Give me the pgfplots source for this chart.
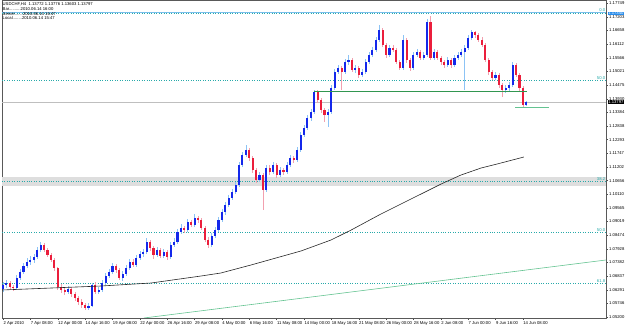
\documentclass[border=0pt]{standalone}
\usepackage{pgfplots}
\pgfplotsset{compat=1.18}
\usepackage{pgfplotstable}
\usepackage{fontspec}
\setmainfont{Liberation Sans}
\definecolor{bullbody}{RGB}{20,40,235}
\definecolor{bullwick}{RGB}{140,195,245}
\definecolor{bearbody}{RGB}{235,30,60}
\definecolor{bearwick}{RGB}{242,160,175}
\definecolor{fib}{RGB}{40,170,170}
\definecolor{trend}{RGB}{100,195,145}
\definecolor{hline}{RGB}{50,150,80}
\definecolor{topblue}{RGB}{120,190,235}
\definecolor{boxblue}{RGB}{40,140,235}
\newcommand\tf{\fontsize{4.2}{5}\selectfont}
\pgfplotstableread{
x o h l c
0 1.0632 1.0660 1.0620 1.0648
1 1.0648 1.0668 1.0638 1.0656
2 1.0656 1.0664 1.0628 1.0640
3 1.0640 1.0650 1.0624 1.0636
4 1.0636 1.0688 1.0630 1.0676
5 1.0676 1.0712 1.0668 1.0700
6 1.0700 1.0736 1.0692 1.0724
7 1.0724 1.0756 1.0716 1.0740
8 1.0740 1.0764 1.0730 1.0748
9 1.0748 1.0772 1.0738 1.0760
10 1.0760 1.0800 1.0752 1.0788
11 1.0788 1.0820 1.0780 1.0808
12 1.0808 1.0816 1.0780 1.0788
13 1.0788 1.0796 1.0758 1.0768
14 1.0768 1.0776 1.0740 1.0748
15 1.0748 1.0756 1.0704 1.0716
16 1.0716 1.0720 1.0630 1.0640
17 1.0640 1.0652 1.0616 1.0628
18 1.0628 1.0640 1.0608 1.0620
19 1.0620 1.0644 1.0610 1.0632
20 1.0632 1.0640 1.0600 1.0612
21 1.0612 1.0620 1.0586 1.0596
22 1.0596 1.0604 1.0568 1.0580
23 1.0580 1.0590 1.0556 1.0568
24 1.0568 1.0578 1.0548 1.0556
25 1.0556 1.0574 1.0546 1.0564
26 1.0564 1.0656 1.0558 1.0648
27 1.0648 1.0660 1.0612 1.0620
28 1.0620 1.0640 1.0610 1.0628
29 1.0628 1.0668 1.0620 1.0656
30 1.0656 1.0696 1.0648 1.0684
31 1.0684 1.0714 1.0676 1.0700
32 1.0700 1.0736 1.0692 1.0724
33 1.0724 1.0732 1.0698 1.0708
34 1.0708 1.0716 1.0668 1.0676
35 1.0676 1.0704 1.0664 1.0692
36 1.0692 1.0728 1.0684 1.0716
37 1.0716 1.0752 1.0708 1.0740
38 1.0740 1.0750 1.0718 1.0728
39 1.0728 1.0768 1.0720 1.0756
40 1.0756 1.0784 1.0748 1.0772
41 1.0772 1.0794 1.0762 1.0780
42 1.0780 1.0836 1.0774 1.0820
43 1.0820 1.0828 1.0786 1.0796
44 1.0796 1.0804 1.0752 1.0768
45 1.0768 1.0800 1.0760 1.0788
46 1.0788 1.0796 1.0754 1.0764
47 1.0764 1.0792 1.0756 1.0780
48 1.0780 1.0788 1.0750 1.0760
49 1.0760 1.0820 1.0754 1.0808
50 1.0808 1.0834 1.0800 1.0820
51 1.0820 1.0872 1.0814 1.0860
52 1.0860 1.0890 1.0852 1.0876
53 1.0876 1.0886 1.0858 1.0868
54 1.0868 1.0912 1.0860 1.0900
55 1.0900 1.0908 1.0878 1.0888
56 1.0888 1.0930 1.0880 1.0916
57 1.0916 1.0926 1.0898 1.0908
58 1.0908 1.0916 1.0866 1.0876
59 1.0876 1.0884 1.0818 1.0828
60 1.0828 1.0838 1.0796 1.0808
61 1.0808 1.0856 1.0800 1.0844
62 1.0844 1.0880 1.0836 1.0868
63 1.0868 1.0920 1.0860 1.0908
64 1.0908 1.0952 1.0900 1.0940
65 1.0940 1.0980 1.0930 1.0968
66 1.0968 1.1008 1.0960 1.0996
67 1.0996 1.1034 1.0988 1.1020
68 1.1020 1.1060 1.1010 1.1048
69 1.1048 1.1140 1.1040 1.1128
70 1.1128 1.1180 1.1118 1.1168
71 1.1168 1.1208 1.1160 1.1188
72 1.1188 1.1198 1.1146 1.1156
73 1.1156 1.1164 1.1096 1.1108
74 1.1108 1.1118 1.1056 1.1068
75 1.1068 1.1100 1.1058 1.1088
76 1.1088 1.1096 1.0948 1.1028
77 1.1028 1.1128 1.1020 1.1116
78 1.1116 1.1128 1.1090 1.1100
79 1.1100 1.1140 1.1092 1.1128
80 1.1128 1.1136 1.1078 1.1088
81 1.1088 1.1120 1.1080 1.1108
82 1.1108 1.1118 1.1088 1.1100
83 1.1100 1.1140 1.1092 1.1128
84 1.1128 1.1168 1.1120 1.1156
85 1.1156 1.1166 1.1138 1.1148
86 1.1148 1.1200 1.1140 1.1188
87 1.1188 1.1260 1.1180 1.1248
88 1.1248 1.1288 1.1238 1.1276
89 1.1276 1.1328 1.1268 1.1316
90 1.1316 1.1352 1.1306 1.1340
91 1.1340 1.1430 1.1332 1.1420
92 1.1420 1.1428 1.1378 1.1388
93 1.1388 1.1396 1.1338 1.1348
94 1.1348 1.1356 1.1300 1.1328
95 1.1328 1.1352 1.1280 1.1340
96 1.1340 1.1448 1.1332 1.1436
97 1.1436 1.1512 1.1428 1.1500
98 1.1500 1.1528 1.1490 1.1516
99 1.1516 1.1526 1.1428 1.1500
100 1.1500 1.1552 1.1492 1.1540
101 1.1540 1.1568 1.1530 1.1548
102 1.1548 1.1556 1.1498 1.1508
103 1.1508 1.1528 1.1496 1.1516
104 1.1516 1.1524 1.1478 1.1488
105 1.1488 1.1512 1.1480 1.1500
106 1.1500 1.1552 1.1492 1.1540
107 1.1540 1.1580 1.1532 1.1568
108 1.1568 1.1600 1.1560 1.1588
109 1.1588 1.1640 1.1580 1.1628
110 1.1628 1.1688 1.1620 1.1668
111 1.1668 1.1676 1.1598 1.1608
112 1.1608 1.1616 1.1558 1.1568
113 1.1568 1.1608 1.1560 1.1596
114 1.1596 1.1606 1.1578 1.1588
115 1.1588 1.1596 1.1530 1.1540
116 1.1540 1.1548 1.1506 1.1516
117 1.1516 1.1648 1.1508 1.1628
118 1.1628 1.1636 1.1538 1.1548
119 1.1548 1.1556 1.1504 1.1516
120 1.1516 1.1580 1.1508 1.1568
121 1.1568 1.1592 1.1560 1.1580
122 1.1580 1.1588 1.1546 1.1556
123 1.1556 1.1580 1.1548 1.1568
124 1.1568 1.1712 1.1560 1.1700
125 1.1700 1.1724 1.1546 1.1556
126 1.1556 1.1592 1.1548 1.1580
127 1.1580 1.1588 1.1546 1.1556
128 1.1556 1.1566 1.1530 1.1540
129 1.1540 1.1548 1.1518 1.1528
130 1.1528 1.1560 1.1520 1.1548
131 1.1548 1.1556 1.1516 1.1528
132 1.1528 1.1568 1.1520 1.1556
133 1.1556 1.1580 1.1548 1.1568
134 1.1568 1.1592 1.1560 1.1580
135 1.1580 1.1608 1.1428 1.1596
136 1.1596 1.1648 1.1588 1.1636
137 1.1636 1.1668 1.1628 1.1660
138 1.1660 1.1666 1.1638 1.1648
139 1.1648 1.1656 1.1618 1.1628
140 1.1628 1.1640 1.1598 1.1608
141 1.1608 1.1616 1.1538 1.1548
142 1.1548 1.1556 1.1488 1.1500
143 1.1500 1.1508 1.1466 1.1476
144 1.1476 1.1500 1.1466 1.1488
145 1.1488 1.1496 1.1436 1.1448
146 1.1448 1.1456 1.1400 1.1428
147 1.1428 1.1448 1.1416 1.1436
148 1.1436 1.1460 1.1426 1.1448
149 1.1448 1.1540 1.1440 1.1528
150 1.1528 1.1536 1.1478 1.1488
151 1.1488 1.1496 1.1426 1.1436
152 1.1436 1.1444 1.1360 1.1370
153 1.1370 1.1386 1.1366 1.1380
}\candles
\pgfplotsset{
  candle/.style 2 args={forget plot, draw=none, mark=none,
    error bars/.cd, y dir=both, y explicit, error mark=none,
    error bar style={draw=#1, line width=#2}},
}
\begin{document}
\begin{tikzpicture}
\useasboundingbox (-2pt,-9pt) rectangle (623pt,318pt);
\begin{axis}[
  scale only axis, width=604pt, height=318pt,
  xmin=-0.3, xmax=176.3, ymin=1.0516, ymax=1.1788,
  axis line style={draw=black!65, line width=0.4pt},
  xtick pos=bottom, ytick pos=right, yticklabel pos=right,
  tick align=outside, major tick length=2pt,
  tick style={black!70, line width=0.4pt},
  xtick={0,8,...,152},
  xticklabels={2 Apr 2010, 7 Apr 08:00, 12 Apr 00:00, 14 Apr 16:00, 19 Apr 08:00, 22 Apr 00:00, 26 Apr 16:00, 29 Apr 08:00, 4 May 00:00, 6 May 16:00, 11 May 08:00, 14 May 00:00, 18 May 16:00, 21 May 08:00, 26 May 00:00, 28 May 16:00, 2 Jun 08:00, 7 Jun 00:00, 9 Jun 16:00, 14 Jun 08:00},
  ytick={1.05200,1.05746,1.06291,1.06837,1.07382,1.07928,1.08474,1.09019,1.09565,1.10110,1.10656,1.11202,1.11747,1.12293,1.12838,1.13384,1.13930,1.14475,1.15021,1.15566,1.16112,1.16658,1.17203,1.17749},
  yticklabels={1.05200,1.05746,1.06291,1.06837,1.07382,1.07928,1.08474,1.09019,1.09565,1.10110,1.10656,1.11202,1.11747,1.12293,1.12838,1.13384,1.13930,1.14475,1.15021,1.15566,1.16112,1.16658,1.17203,1.17749},
  xticklabel style={font=\tf, anchor=north west, inner sep=0pt, yshift=-1.3pt, xshift=0.3pt},
  yticklabel style={font=\tf, anchor=west, inner sep=0pt, xshift=1pt},
  scaled y ticks=false,
]
% gray band
\addplot[fill=black!13, draw=none, forget plot] coordinates {(-0.3,1.1044) (176.3,1.1044) (176.3,1.1080) (-0.3,1.1080)} -- cycle;
% fib levels
\addplot[topblue, line width=0.5pt, forget plot] coordinates {(-0.3,1.1738) (176.3,1.1738)};
\addplot[fib, dotted, line width=0.45pt, forget plot] coordinates {(-0.3,1.1734) (176.3,1.1734)};
\addplot[fib, dotted, line width=0.45pt, forget plot] coordinates {(-0.3,1.1468) (176.3,1.1468)};
\addplot[fib, dotted, line width=0.45pt, forget plot] coordinates {(-0.3,1.1064) (176.3,1.1064)};
\addplot[fib, dotted, line width=0.45pt, forget plot] coordinates {(-0.3,1.0860) (176.3,1.0860)};
\addplot[fib, dotted, line width=0.45pt, forget plot] coordinates {(-0.3,1.0656) (176.3,1.0656)};
% current price line
\addplot[black!25, line width=0.5pt, forget plot] coordinates {(-0.3,1.1380) (176.3,1.1380)};
% wicks
\addplot[candle={bullwick}{0.6pt}]
  table[x=x, y expr={\thisrow{c}>=\thisrow{o} ? (\thisrow{h}+\thisrow{l})/2 : nan}, y error expr={(\thisrow{h}-\thisrow{l})/2}] {\candles};
\addplot[candle={bearwick}{0.6pt}]
  table[x=x, y expr={\thisrow{c}<\thisrow{o} ? (\thisrow{h}+\thisrow{l})/2 : nan}, y error expr={(\thisrow{h}-\thisrow{l})/2}] {\candles};
% bodies
\addplot[candle={bullbody}{2.1pt}]
  table[x=x, y expr={\thisrow{c}>=\thisrow{o} ? (\thisrow{o}+\thisrow{c})/2 : nan}, y error expr={abs(\thisrow{c}-\thisrow{o})/2+0.00005}] {\candles};
\addplot[candle={bearbody}{2.1pt}]
  table[x=x, y expr={\thisrow{c}<\thisrow{o} ? (\thisrow{o}+\thisrow{c})/2 : nan}, y error expr={abs(\thisrow{c}-\thisrow{o})/2+0.00005}] {\candles};
% moving average
\addplot[black!85, line width=0.6pt, forget plot] coordinates {
(-0.3,1.0628) (28.7,1.0644) (43.3,1.0656) (57.9,1.0684) (63.7,1.0696) (72.5,1.0728) (87.1,1.0784) (95.9,1.0828) (101.8,1.0868) (110.5,1.0932) (119.3,1.0992) (128.1,1.1052) (133.9,1.1088) (139.8,1.1116) (145.6,1.1136) (152.3,1.1160)};
% trend line
\addplot[trend, line width=0.6pt, forget plot] coordinates {(41.2,1.0516) (176.3,1.0748)};
% horizontal green lines
\addplot[hline, line width=0.6pt, forget plot] coordinates {(90.9,1.1424) (153.2,1.1424)};
\addplot[trend, line width=0.6pt, forget plot] coordinates {(149.7,1.1360) (159.6,1.1360)};
% fib labels
\node[font=\tf, text=fib, anchor=south east, inner sep=0.3pt] at (axis cs:176.2,1.1738) {0.0};
\node[font=\tf, text=fib, anchor=south east, inner sep=0.3pt] at (axis cs:176.2,1.1468) {50.0};
\node[font=\tf, text=fib, anchor=south east, inner sep=0.3pt] at (axis cs:176.2,1.1064) {38.2};
\node[font=\tf, text=fib, anchor=south east, inner sep=0.3pt] at (axis cs:176.2,1.0860) {50.0};
\node[font=\tf, text=fib, anchor=south east, inner sep=0.3pt] at (axis cs:176.2,1.0656) {61.8};
\coordinate (cp) at (axis cs:176.3,1.13797);
\coordinate (tp) at (axis cs:176.3,1.1734);
\end{axis}
\node[fill=black, text=white, anchor=west, inner sep=0.5pt, font=\tf] at ([xshift=1.6pt]cp) {1.13797};
\node[fill=boxblue, text=white, anchor=west, inner sep=0.5pt, font=\tf] at ([xshift=1.6pt]tp) {1.17340};
\node[font=\tf, anchor=west, inner sep=0pt] at (0.5pt,314pt) {USDCHF,H4\ \ 1.13772 1.13776 1.13603 1.13797};
\node[font=\tf, anchor=west, inner sep=0pt] at (0.5pt,309.2pt) {Bar..........2010.06.14 16:00};
\node[font=\tf, anchor=west, inner sep=0pt] at (0.5pt,304.4pt) {Server.......2010.06.14 16:47};
\node[font=\tf, anchor=west, inner sep=0pt] at (0.5pt,299.6pt) {Local........2010.06.14 15:47};
\end{tikzpicture}
\end{document}
